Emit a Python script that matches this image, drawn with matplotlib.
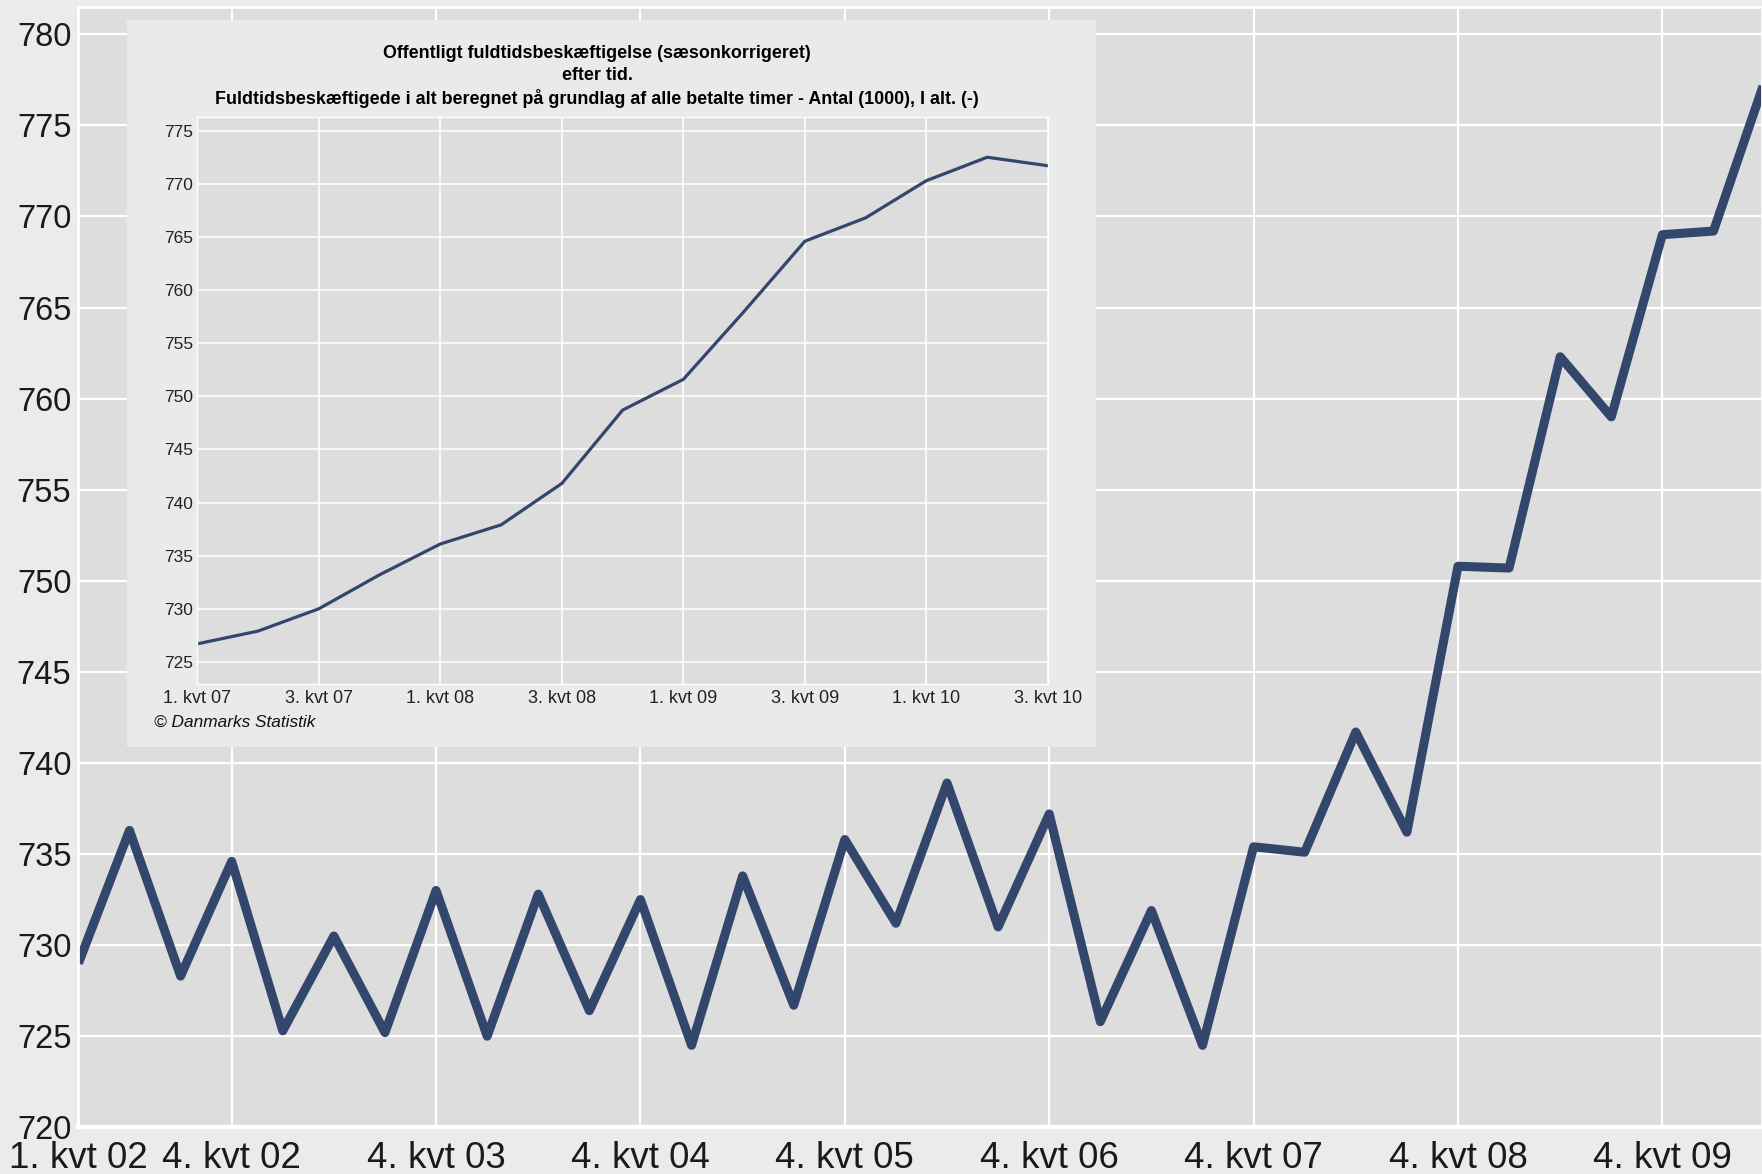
import matplotlib
matplotlib.use('Agg')
import matplotlib.pyplot as plt
from matplotlib.patches import Rectangle

plt.rcParams['font.family'] = ['Liberation Sans', 'DejaVu Sans']

# Offentligt beskaeftigede, kvartaler 1. kvt 02 - 2. kvt 10 (1000 personer)
main_values = [729.0, 736.3, 728.3, 734.6, 725.3, 730.5, 725.2, 733.0,
               725.0, 732.8, 726.4, 732.5, 724.5, 733.8, 726.7, 735.8,
               731.2, 738.9, 731.0, 737.2, 725.8, 731.9, 724.5, 735.4,
               735.1, 741.7, 736.2, 750.8, 750.7, 762.3, 759.0, 769.0,
               769.2, 777.4]
main_tick_pos = [0, 3, 7, 11, 15, 19, 23, 27, 31]
main_tick_labels = ['1. kvt 02', '4. kvt 02', '4. kvt 03', '4. kvt 04',
                    '4. kvt 05', '4. kvt 06', '4. kvt 07', '4. kvt 08',
                    '4. kvt 09']
main_yticks = [720, 725, 730, 735, 740, 745, 750, 755, 760, 765, 770, 775, 780]

# saesonkorrigeret serie, 1. kvt 07 - 3. kvt 10
inset_values = [726.7, 727.9, 730.0, 733.2, 736.1, 737.9, 741.8, 748.7,
                751.6, 758.0, 764.6, 766.8, 770.3, 772.5, 771.7]
inset_tick_pos = [0, 2, 4, 6, 8, 10, 12, 14]
inset_tick_labels = ['1. kvt 07', '3. kvt 07', '1. kvt 08', '3. kvt 08',
                     '1. kvt 09', '3. kvt 09', '1. kvt 10', '3. kvt 10']
inset_yticks = [725, 730, 735, 740, 745, 750, 755, 760, 765, 770, 775]

title_lines = ['Offentligt fuldtidsbeskæftigelse (sæsonkorrigeret)',
               'efter tid.',
               'Fuldtidsbeskæftigede i alt beregnet på grundlag af alle betalte timer - Antal (1000), I alt. (-)']
source_text = '© Danmarks Statistik'

line_color = '#33466b'
W, H = 1762.0, 1174.0

fig = plt.figure(figsize=(W / 100, H / 100), dpi=100, facecolor='#ebebeb')

# big chart
ax = fig.add_axes([78.4 / W, 1 - 1127.3 / H, 1 - 78.4 / W, (1127.3 - 7) / H])
ax.set_facecolor('#dddddd')
ax.plot(range(len(main_values)), main_values, color=line_color, lw=6.5,
        solid_joinstyle='round', solid_capstyle='butt')
ax.set_xlim(0, 32.95)
ax.set_ylim(720, 781.5)
ax.set_xticks(main_tick_pos, main_tick_labels, fontsize=26.5, color='#1a1a1a')
ax.set_yticks(main_yticks, [str(v) for v in main_yticks], fontsize=23.5, color='#1a1a1a')
ax.tick_params(axis='x', length=0, pad=10)
ax.tick_params(axis='y', length=0, pad=5)
ax.grid(color='white', lw=1.6)
ax.set_axisbelow(True)
for side, sp in ax.spines.items():
    sp.set_color('white')
    sp.set_linewidth(2)
ax.spines['bottom'].set_linewidth(3)

# inset panel
box = Rectangle((126.7 / W, 1 - 746.7 / H), (1096 - 126.7) / W, (746.7 - 20) / H,
                transform=fig.transFigure, facecolor='#eaeaea', edgecolor='none', zorder=1)
fig.add_artist(box)

ins = fig.add_axes([197.3 / W, 1 - 684 / H, (1048 - 197.3) / W, (684 - 117.3) / H])
ins.set_zorder(2)
ins.set_facecolor('#dddddd')
ins.plot(range(len(inset_values)), inset_values, color=line_color, lw=2.3,
         solid_joinstyle='round')
ins.set_xlim(0, 14)
ins.set_ylim(722.92, 776.26)
ins.set_xticks(inset_tick_pos, inset_tick_labels, fontsize=13, color='#222222')
ins.set_yticks(inset_yticks, [str(v) for v in inset_yticks], fontsize=12.5, color='#222222')
ins.tick_params(axis='x', length=0, pad=4.5)
ins.tick_params(axis='y', length=0, pad=3)
ins.grid(color='white', lw=1.1)
ins.set_axisbelow(True)
for sp in ins.spines.values():
    sp.set_color('white')
    sp.set_linewidth(1)

for txt, yy in zip(title_lines, [54, 76, 98]):
    fig.text(597 / W, 1 - yy / H, txt, ha='center', va='center',
             fontsize=12.9, fontweight='bold', color='black', zorder=3)
fig.text(154 / W, 1 - 722.5 / H, source_text, ha='left', va='center',
         fontsize=12.4, style='italic', color='#111111', zorder=3)

fig.savefig('out.png', dpi=100, facecolor=fig.get_facecolor())
